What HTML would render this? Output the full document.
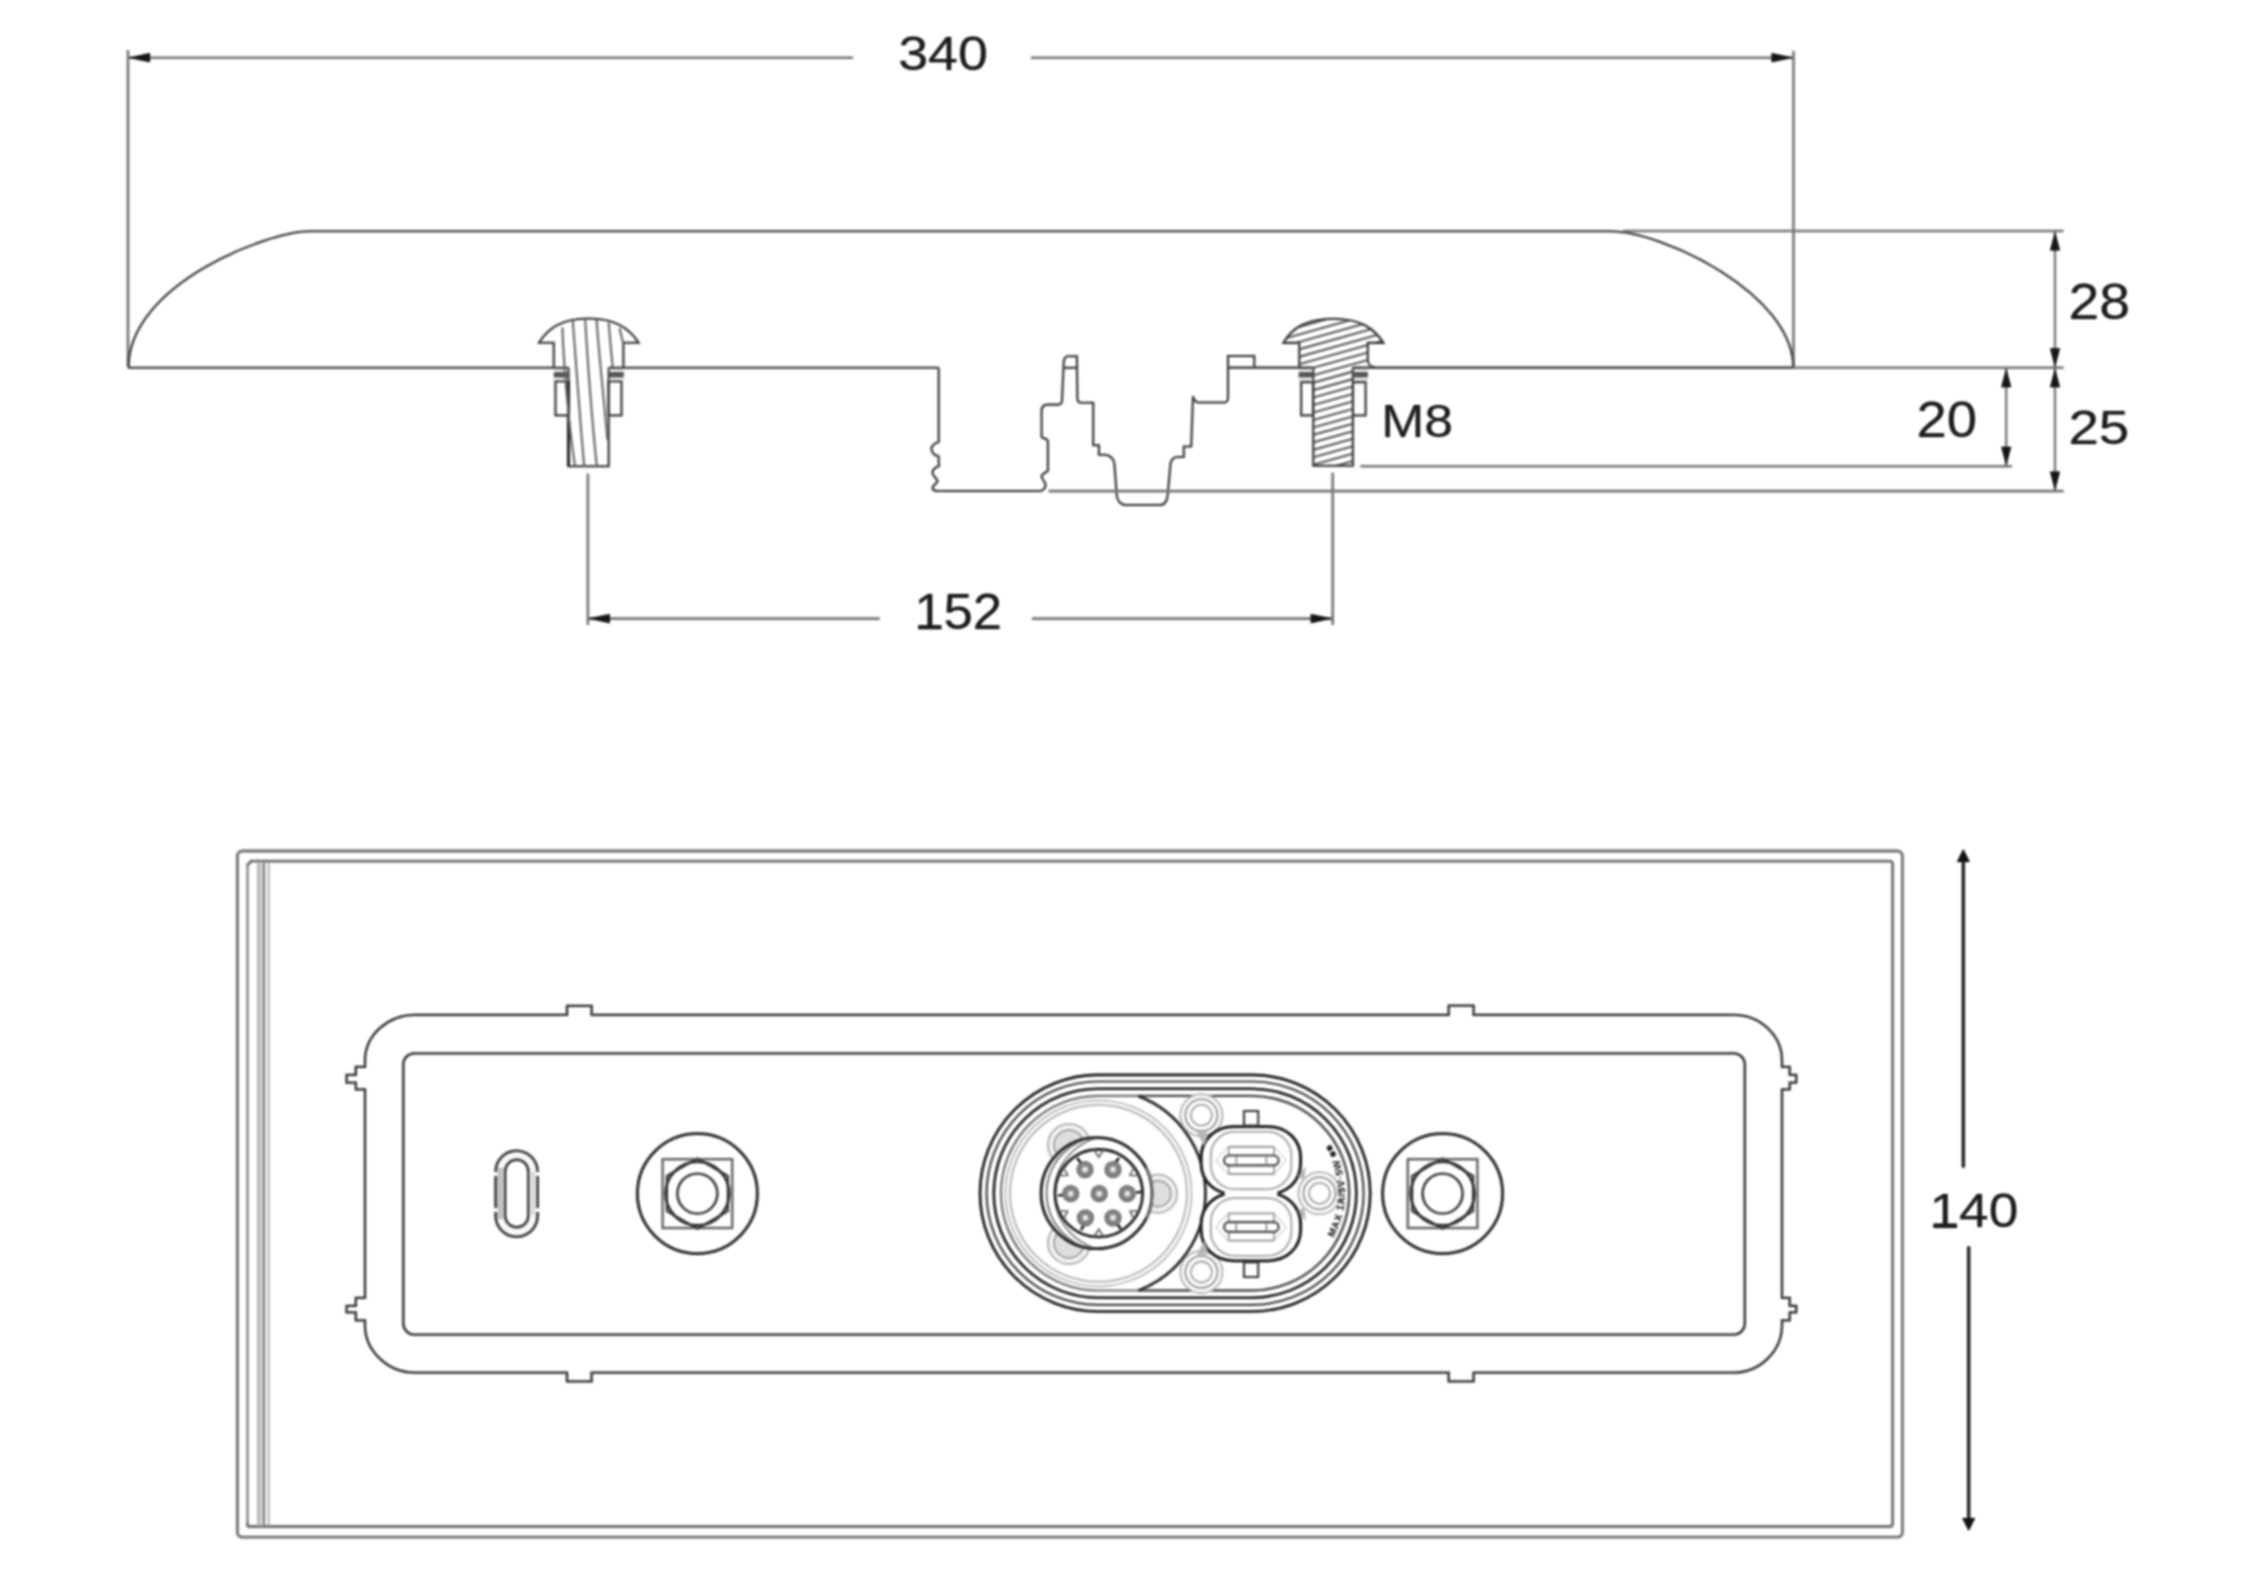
<!DOCTYPE html>
<html><head><meta charset="utf-8"><style>
html,body{margin:0;padding:0;background:#fff;}
svg{display:block;} .wrap{width:2265px;height:1569px;overflow:hidden;}
text{font-family:"Liberation Sans",sans-serif;}
</style></head><body><div class="wrap">
<svg width="2265" height="1569" viewBox="0 0 2265 1569">
<defs><filter id="soft" x="0" y="0" width="2265" height="1569" filterUnits="userSpaceOnUse" color-interpolation-filters="sRGB"><feGaussianBlur stdDeviation="1"/><feComponentTransfer><feFuncR type="gamma" amplitude="1" exponent="1.3" offset="0"/><feFuncG type="gamma" amplitude="1" exponent="1.3" offset="0"/><feFuncB type="gamma" amplitude="1" exponent="1.3" offset="0"/></feComponentTransfer></filter></defs>
<g filter="url(#soft)">
<rect width="2265" height="1569" fill="#fff"/>
<path d="M128,50 V367 M1793.5,51 V367" stroke="#8f8f8f" stroke-width="2.6" fill="none"/>
<path d="M128,57.7 H853 M1031,57.7 H1793.5" stroke="#8f8f8f" stroke-width="2.6" fill="none"/>
<path d="M128.0,57.7 L150.0,53.1 L150.0,62.3 Z" fill="#262626"/>
<path d="M1793.5,57.7 L1771.5,62.3 L1771.5,53.1 Z" fill="#262626"/>
<text transform="translate(898.15,69.51) scale(1.1075,1)" x="0" y="0" font-size="48.59" fill="#2e2e2e" >340</text>
<path d="M128.5,367.5 C128.5,285 267,231.3 310,231.3 H1610 C1663,231.3 1793.3,294 1793.3,367.5" stroke="#555" stroke-width="2.1" fill="none"/>
<path d="M1623,231 H2063.6" stroke="#8f8f8f" stroke-width="2.6" fill="none"/>
<path d="M128,367.8 H568.5 M608.7,367.8 H938.7" stroke="#555" stroke-width="2.1" fill="none"/>
<path d="M1228,367.6 H1313.3 M1352.9,367.6 H1793.5" stroke="#555" stroke-width="2.1" fill="none"/>
<path d="M1793.5,367.8 H2063.6" stroke="#8f8f8f" stroke-width="2.6" fill="none"/>
<path d="M938.7,367.8 V441.9 C934,443 930,447 932,451 C933,455 937,456 938.5,456 L939,465.9 C936,467 933,469 932.5,472 C932,476 937,478 937.5,481 C937,484 932.5,485 932.5,488 C933,490.5 935,491 937,491 H1040.3 C1044,490 1046,487 1045.4,484.5 C1045,481 1041.6,479 1041.6,476.5 C1042,473 1047.9,472 1047.9,470.7 V441.4 C1047.9,438.5 1042.2,438.5 1041.6,437 V410.8 C1041.6,406 1045,404.6 1048,404.6 H1059 C1061,404.6 1062.1,402 1062.1,398.6 L1063.7,362.9 C1063.9,358 1065,356.3 1068,356.3 H1076.9 L1077.4,398.6 C1077.6,401 1079,402.7 1081,402.7 H1093.2 V445.3 H1098.9 V454.8 H1104.7 C1110,455 1114,459 1114.4,464 L1116.7,494.8 C1117,501 1121,505 1126,505 H1160.3 C1165,505 1167.5,500 1167.7,494.8 L1170.6,462.7 C1172,459 1175,457 1177.5,457 H1183.8 V446.5 H1191.2 L1193,396.2 C1194,400 1196,402.5 1199,402.5 H1224.5 C1227,402.5 1228,400 1228,398 V356 H1254.3 V367.6" stroke="#555" stroke-width="2.1" fill="none"/>
<path d="M1064,367.8 H1077" stroke="#555" stroke-width="2.1" fill="none"/>
<path d="M1360.5,466.3 H2012 M1048.6,491.1 H2063.6" stroke="#8f8f8f" stroke-width="2.6" fill="none"/>
<path d="M2055,231 V367.8 V491.1 M2006.2,367.8 V466.3" stroke="#8a8a8a" stroke-width="2.2" fill="none"/>
<path d="M2055.0,231.5 L2060.0,250.5 L2050.0,250.5 Z" fill="#262626"/>
<path d="M2055.0,367.3 L2050.0,348.3 L2060.0,348.3 Z" fill="#262626"/>
<path d="M2055.0,368.3 L2060.0,387.3 L2050.0,387.3 Z" fill="#262626"/>
<path d="M2055.0,490.6 L2050.0,471.6 L2060.0,471.6 Z" fill="#262626"/>
<path d="M2006.2,368.3 L2011.2,387.3 L2001.2,387.3 Z" fill="#262626"/>
<path d="M2006.2,465.8 L2001.2,446.8 L2011.2,446.8 Z" fill="#262626"/>
<text transform="translate(2068.43,318.50) scale(1.1110,1)" x="0" y="0" font-size="49.86" fill="#2e2e2e" >28</text>
<text transform="translate(2068.46,443.81) scale(1.1258,1)" x="0" y="0" font-size="48.59" fill="#2e2e2e" >25</text>
<text transform="translate(1916.48,437.10) scale(1.0913,1)" x="0" y="0" font-size="49.86" fill="#2e2e2e" >20</text>
<text transform="translate(1381.27,437.23) scale(1.1046,1)" x="0" y="0" font-size="46.76" fill="#2e2e2e" >M8</text>
<path d="M587.9,473.8 V625 M1332.7,472.7 V625" stroke="#8f8f8f" stroke-width="2.6" fill="none"/>
<path d="M587.9,618.6 H879.7 M1032,618.6 H1332.7" stroke="#8f8f8f" stroke-width="2.6" fill="none"/>
<path d="M587.9,618.6 L609.9,614.0 L609.9,623.2 Z" fill="#262626"/>
<path d="M1332.7,618.6 L1310.7,623.2 L1310.7,614.0 Z" fill="#262626"/>
<text transform="translate(914.14,628.70) scale(1.0588,1)" x="0" y="0" font-size="49.86" fill="#2e2e2e" >152</text>
<path d="M553.8,367.8 V342.8 H539 C548,328 562,318.5 588.5,318.5 C615,318.5 629,328 638.7,342.8 H623.4 V367.8" stroke="#555" stroke-width="2.1" fill="none"/>
<path d="M568.5,367.8 V466.3 H608.7 V367.8" stroke="#555" stroke-width="2.1" fill="none"/>
<rect x="555.5" y="381.4" width="12.8" height="34" stroke="#555" stroke-width="2.1" fill="none"/>
<rect x="608.5" y="381.4" width="13" height="34" stroke="#555" stroke-width="2.1" fill="none"/>
<rect x="553.8" y="372" width="14.7" height="5.5" fill="#6e6e6e"/><rect x="608.7" y="372" width="15" height="5.5" fill="#6e6e6e"/>
<path d="M554,369.8 H568 M609,369.8 H623.5 M554,379.8 H568 M609,379.8 H623.5" stroke="#d0d0d0" stroke-width="1.2"/>
<path d="M568.5,381 V466.3" stroke="#444" stroke-width="3"/>
<path d="M562.4,327.5 C563.5,360 568,420 575,466.3" stroke="#7c7c7c" stroke-width="2" fill="none"/>
<path d="M572.8,321 C575,350 580,420 584.2,466.3" stroke="#7c7c7c" stroke-width="2" fill="none"/>
<path d="M585.2,319.5 C587,350 592,420 596.8,466.3" stroke="#7c7c7c" stroke-width="2" fill="none"/>
<path d="M596.6,319.5 C598.5,350 604,400 607.5,440" stroke="#7c7c7c" stroke-width="2" fill="none"/>
<path d="M608.7,322.5 C610,340 611.5,355 612.7,367" stroke="#7c7c7c" stroke-width="2" fill="none"/>
<path d="M619.6,328.2 C621,334 622,339 623.4,344" stroke="#7c7c7c" stroke-width="2" fill="none"/>
<clipPath id="rbclip"><path d="M1299.3,367.6 V342.9 H1283.4 C1292,328 1306,318.8 1333.4,318.8 C1360,318.8 1374,328 1383.4,342.9 H1367.8 V367.6 H1353 V466 H1313.3 V367.6 Z"/></clipPath>
<g clip-path="url(#rbclip)"><path d="M1270,312.8 L1400,276.4 M1270,320.2 L1400,283.8 M1270,327.7 L1400,291.3 M1270,335.1 L1400,298.7 M1270,342.6 L1400,306.2 M1270,350.1 L1400,313.7 M1270,357.5 L1400,321.1 M1270,365.0 L1400,328.6 M1270,372.4 L1400,336.0 M1270,379.9 L1400,343.5 M1270,387.4 L1400,351.0 M1270,394.8 L1400,358.4 M1270,402.3 L1400,365.9 M1270,409.7 L1400,373.3 M1270,417.2 L1400,380.8 M1270,424.7 L1400,388.3 M1270,432.1 L1400,395.7 M1270,439.6 L1400,403.2 M1270,447.0 L1400,410.6 M1270,454.5 L1400,418.1 M1270,462.0 L1400,425.6 M1270,469.4 L1400,433.0 M1270,476.9 L1400,440.5 M1270,484.3 L1400,447.9 M1270,491.8 L1400,455.4 M1270,499.3 L1400,462.9 M1270,506.7 L1400,470.3 M1270,514.2 L1400,477.8 M1270,521.6 L1400,485.2 M1270,529.1 L1400,492.7 M1270,536.6 L1400,500.2 M1270,544.0 L1400,507.6 M1270,551.5 L1400,515.1 M1270,558.9 L1400,522.5 M1270,566.4 L1400,530.0" stroke="#727272" stroke-width="2"/></g>
<path d="M1299.3,367.6 V342.9 H1283.4 C1292,328 1306,318.8 1333.4,318.8 C1360,318.8 1374,328 1383.4,342.9 H1367.8 V360 C1367.8,364 1371,367 1375,367.6" stroke="#555" stroke-width="2.1" fill="none"/>
<path d="M1313.3,367.6 V465.8 H1352.9 V367.6" stroke="#555" stroke-width="2.1" fill="none"/>
<rect x="1301.2" y="382.2" width="11.8" height="33.2" stroke="#555" stroke-width="2.1" fill="none"/>
<rect x="1353" y="382.2" width="12.6" height="33.2" stroke="#555" stroke-width="2.1" fill="none"/>
<rect x="1298.7" y="372" width="14.6" height="5.5" fill="#6e6e6e"/><rect x="1353" y="372" width="14.8" height="5.5" fill="#6e6e6e"/>
<path d="M1299,369.8 H1313 M1353.5,369.8 H1367.5 M1299,379.8 H1313 M1353.5,379.8 H1367.5" stroke="#d0d0d0" stroke-width="1.2"/>
<rect x="237.4" y="851" width="1665" height="686.2" rx="5" stroke="#8a8a8a" stroke-width="2.8" fill="none"/>
<path d="M247.5,1526.5 V865 L251,861.2 H1889.5 Q1892.6,861.2 1892.6,864.3 V1523.4 Q1892.6,1526.5 1889.5,1526.5 H247.5" stroke="#8a8a8a" stroke-width="2.8" fill="none"/>
<path d="M247.4,866 V1522" stroke="#b2b2b2" stroke-width="2.8"/>
<rect x="257" y="862.5" width="7.6" height="663" fill="#d8d8d8"/>
<path d="M258.2,862.5 V1525.5" stroke="#bdbdbd" stroke-width="1.6"/>
<path d="M264.1,862.5 V1525.5" stroke="#999" stroke-width="2.2"/>
<path d="M268.7,862.5 V1525.5" stroke="#bdbdbd" stroke-width="1.8"/>
<path d="M1963.3,858 V1166.3 M1968.7,1247.5 V1521" stroke="#383838" stroke-width="3.2" fill="none" stroke-linecap="round"/>
<path d="M1963.3,849.0 L1969.8,862.0 L1956.8,862.0 Z" fill="#222"/>
<path d="M1968.7,1531.0 L1962.2,1518.0 L1975.2,1518.0 Z" fill="#222"/>
<text transform="translate(1929.51,1227.41) scale(1.0859,1)" x="0" y="0" font-size="49.01" fill="#2e2e2e" >140</text>
<path d="M414.8,1014.8 H567 V1005.9 H591.6 V1014.8 H1448.7 V1005.7 H1473.6 V1014.8 H1733.5 C1760,1014.8 1782,1035 1782,1060.5 V1066.8 H1789.7 V1074.8 H1796.2 V1082.7 H1789.7 V1089.3 H1782 V1297.8 H1789.7 V1305.8 H1796.2 V1312.4 H1789.7 V1320.3 H1782 V1325.6 C1782,1351 1760,1372.7 1733.5,1372.7 H1473.6 V1381.3 H1448.7 V1372.7 H591.6 V1381.3 H567 V1372.7 H414.8 C388,1372.7 365,1351 365,1325.6 V1320.3 H355.8 V1312.4 H346.6 V1305.8 H355.8 V1297.8 H365 V1089.3 H355.8 V1082.7 H346.6 V1074.8 H355.8 V1066.8 H365 V1060.5 C365,1035 388,1014.8 414.8,1014.8 Z" stroke="#4e4e4e" stroke-width="2.3" fill="none"/>
<rect x="403.3" y="1053.4" width="1341.5" height="281.2" rx="11" stroke="#4e4e4e" stroke-width="2.3" fill="none"/>
<rect x="495.6" y="1150.7" width="42" height="86" rx="21" stroke="#555" stroke-width="2.6" fill="#fafafa"/>
<path d="M500.3,1168 V1219" stroke="#cdcdcd" stroke-width="6"/>
<path d="M533,1172 V1215" stroke="#e2e2e2" stroke-width="4"/>
<path d="M495.6,1172 V1176 M495.6,1208 V1212 M537.6,1172 V1176 M537.6,1208 V1212" stroke="#fff" stroke-width="4"/>
<rect x="505.2" y="1159.7" width="23.1" height="67.6" rx="11.5" stroke="#555" stroke-width="2.4" fill="#fff"/>
<circle cx="697.4" cy="1193.6" r="60" stroke="#444" stroke-width="2.8" fill="none"/>
<rect x="662.6" y="1159.1999999999998" width="69.6" height="68.8" stroke="#7a7a7a" stroke-width="2.3" fill="none"/>
<polygon points="697.4,1158.4 727.9,1176.0 727.9,1211.2 697.4,1228.8 666.9,1211.2 666.9,1176.0" stroke="#5a5a5a" stroke-width="2.2" fill="none"/>
<circle cx="697.4" cy="1193.6" r="31.8" stroke="#484848" stroke-width="2.6" fill="none"/>
<circle cx="697.4" cy="1193.6" r="20" stroke="#555" stroke-width="2.4" fill="none"/>
<circle cx="1442.6" cy="1193.6" r="60" stroke="#444" stroke-width="2.8" fill="none"/>
<rect x="1407.8" y="1159.1999999999998" width="69.6" height="68.8" stroke="#7a7a7a" stroke-width="2.3" fill="none"/>
<polygon points="1442.6,1158.4 1473.1,1176.0 1473.1,1211.2 1442.6,1228.8 1412.1,1211.2 1412.1,1176.0" stroke="#5a5a5a" stroke-width="2.2" fill="none"/>
<circle cx="1442.6" cy="1193.6" r="31.8" stroke="#484848" stroke-width="2.6" fill="none"/>
<circle cx="1442.6" cy="1193.6" r="20" stroke="#555" stroke-width="2.4" fill="none"/>
<rect x="980.0" y="1074.9" width="390.20000000000005" height="236.5999999999999" rx="118.29999999999995" stroke="#3a3a3a" stroke-width="2.6" fill="none"/>
<rect x="986.5999999999999" y="1081.5" width="377.0000000000002" height="223.4000000000001" rx="111.70000000000005" stroke="#666" stroke-width="2.2" fill="none"/>
<rect x="993.8" y="1088.7" width="362.60000000000014" height="209.0" rx="104.5" stroke="#3e3e3e" stroke-width="2.6" fill="none"/>
<path d="M1138.2,1095.9 H1251.9 A97.3,97.3 0 0 1 1251.9,1290.5 H1138.2" stroke="#6a6a6a" stroke-width="2.4" fill="none"/>
<path d="M1138.2,1095.9 H1098.3 A97.3,97.3 0 0 0 1098.3,1290.5 H1138.2" stroke="#8c8c8c" stroke-width="2.2" fill="none"/>
<path d="M1138.2,1096 A104,104 0 0 1 1138.2,1290.6" stroke="#3e3e3e" stroke-width="2.6" fill="none"/>
<circle cx="1098.5" cy="1193.3" r="93" stroke="#c8c8c8" stroke-width="1.8" fill="none"/>
<circle cx="1098.5" cy="1193.3" r="88.5" stroke="#c4c4c4" stroke-width="2" fill="none"/>
<circle cx="1069" cy="1145" r="21" stroke="#c2c2c2" stroke-width="2" fill="#f7f7f7"/>
<circle cx="1069" cy="1145" r="15" stroke="#b8b8b8" stroke-width="2" fill="#e6e6e6"/>
<circle cx="1158" cy="1193.7" r="19" stroke="#c2c2c2" stroke-width="2" fill="#f7f7f7"/>
<circle cx="1158" cy="1193.7" r="13" stroke="#b8b8b8" stroke-width="2" fill="#e6e6e6"/>
<circle cx="1069" cy="1243" r="21" stroke="#c2c2c2" stroke-width="2" fill="#f7f7f7"/>
<circle cx="1069" cy="1243" r="15" stroke="#b8b8b8" stroke-width="2" fill="#e6e6e6"/>
<circle cx="1096.6" cy="1193.2" r="55.5" stroke="#3e3e3e" stroke-width="2.8" fill="#fff"/>
<clipPath id="connclip"><circle cx="1096.6" cy="1193.2" r="54.5"/></clipPath>
<g clip-path="url(#connclip)"><circle cx="1103.5" cy="1193.3" r="56.9" stroke="#8a8a8a" stroke-width="1.8" fill="none"/><circle cx="1112" cy="1193.3" r="57.4" stroke="#9a9a9a" stroke-width="1.8" fill="none"/></g>
<path d="M1146,1168 A50,50 0 0 1 1146,1218" stroke="#9a9a9a" stroke-width="1.6" fill="none"/>
<circle cx="1098.8" cy="1193.2" r="43.8" stroke="#3e3e3e" stroke-width="2.6" fill="none"/>
<path d="M1093.8,1149.4 L1098.8,1157.2 L1103.8,1149.4" stroke="#7a7a7a" stroke-width="1.6" fill="none"/>
<path d="M1058.4,1175.6 L1067.6,1175.2 L1063.4,1167.0" stroke="#7a7a7a" stroke-width="1.6" fill="none"/>
<path d="M1134.2,1167.0 L1130.0,1175.2 L1139.2,1175.6" stroke="#7a7a7a" stroke-width="1.6" fill="none"/>
<path d="M1063.4,1219.4 L1067.6,1211.2 L1058.4,1210.8" stroke="#7a7a7a" stroke-width="1.6" fill="none"/>
<path d="M1139.2,1210.8 L1130.0,1211.2 L1134.2,1219.4" stroke="#7a7a7a" stroke-width="1.6" fill="none"/>
<path d="M1103.8,1237.0 L1098.8,1229.2 L1093.8,1237.0" stroke="#7a7a7a" stroke-width="1.6" fill="none"/>
<path d="M1077,1158 L1081,1163 M1119,1158 L1115,1163 M1058,1195.5 L1063,1195 M1142,1192 L1136,1192.5 M1081,1230 L1084,1225 M1121,1229 L1117,1224" stroke="#222" stroke-width="2.2"/>
<circle cx="1099.2" cy="1193.7" r="7.6" stroke="#8a8a8a" stroke-width="2" fill="#a8a8a8"/>
<circle cx="1099.2" cy="1193.7" r="4.6" stroke="#777" stroke-width="1.2" fill="#c8c8c8"/>
<circle cx="1099.2" cy="1193.7" r="1.8" fill="#fff"/>
<circle cx="1070.7" cy="1193.7" r="7.6" stroke="#8a8a8a" stroke-width="2" fill="#a8a8a8"/>
<circle cx="1070.7" cy="1193.7" r="4.6" stroke="#777" stroke-width="1.2" fill="#c8c8c8"/>
<circle cx="1070.7" cy="1193.7" r="1.8" fill="#fff"/>
<circle cx="1127.3" cy="1193.7" r="7.6" stroke="#8a8a8a" stroke-width="2" fill="#a8a8a8"/>
<circle cx="1127.3" cy="1193.7" r="4.6" stroke="#777" stroke-width="1.2" fill="#c8c8c8"/>
<circle cx="1127.3" cy="1193.7" r="1.8" fill="#fff"/>
<circle cx="1085" cy="1169.6" r="7.6" stroke="#8a8a8a" stroke-width="2" fill="#a8a8a8"/>
<circle cx="1085" cy="1169.6" r="4.6" stroke="#777" stroke-width="1.2" fill="#c8c8c8"/>
<circle cx="1085" cy="1169.6" r="1.8" fill="#fff"/>
<circle cx="1113" cy="1169.6" r="7.6" stroke="#8a8a8a" stroke-width="2" fill="#a8a8a8"/>
<circle cx="1113" cy="1169.6" r="4.6" stroke="#777" stroke-width="1.2" fill="#c8c8c8"/>
<circle cx="1113" cy="1169.6" r="1.8" fill="#fff"/>
<circle cx="1085.4" cy="1217.8" r="7.6" stroke="#8a8a8a" stroke-width="2" fill="#a8a8a8"/>
<circle cx="1085.4" cy="1217.8" r="4.6" stroke="#777" stroke-width="1.2" fill="#c8c8c8"/>
<circle cx="1085.4" cy="1217.8" r="1.8" fill="#fff"/>
<circle cx="1113" cy="1217.8" r="7.6" stroke="#8a8a8a" stroke-width="2" fill="#a8a8a8"/>
<circle cx="1113" cy="1217.8" r="4.6" stroke="#777" stroke-width="1.2" fill="#c8c8c8"/>
<circle cx="1113" cy="1217.8" r="1.8" fill="#fff"/>
<circle cx="1201.4" cy="1115.2" r="21" stroke="#c6c6c6" stroke-width="2" fill="#fff"/>
<circle cx="1201.4" cy="1115.2" r="16" stroke="#b0b0b0" stroke-width="2" fill="none"/>
<circle cx="1201.4" cy="1115.2" r="10.5" stroke="#b8b8b8" stroke-width="1.8" fill="none"/>
<circle cx="1201.4" cy="1272" r="21" stroke="#c6c6c6" stroke-width="2" fill="#fff"/>
<circle cx="1201.4" cy="1272" r="16" stroke="#b0b0b0" stroke-width="2" fill="none"/>
<circle cx="1201.4" cy="1272" r="10.5" stroke="#b8b8b8" stroke-width="1.8" fill="none"/>
<circle cx="1319.5" cy="1193.3" r="21" stroke="#c6c6c6" stroke-width="2" fill="#fff"/>
<circle cx="1319.5" cy="1193.3" r="16" stroke="#b0b0b0" stroke-width="2" fill="none"/>
<circle cx="1319.5" cy="1193.3" r="10.5" stroke="#b8b8b8" stroke-width="1.8" fill="none"/>
<path d="M1234.1,1126.6 H1267.6 C1286.74,1126.6 1300.6,1139.62 1300.6,1157.6 V1163.2 C1300.6,1181.18 1286.74,1194.2 1267.6,1194.2 H1234.1 C1214.9599999999998,1194.2 1201.1,1181.18 1201.1,1163.2 V1157.6 C1201.1,1139.62 1214.9599999999998,1126.6 1234.1,1126.6 Z" stroke="#333" stroke-width="2.8" fill="#fff"/>
<rect x="1210.8" y="1131.6" width="80.6" height="57.600000000000136" rx="24" stroke="#b4b4b4" stroke-width="1.8" fill="none"/>
<path d="M1216,1160.4 L1228,1146.4 H1274 L1286,1160.4 L1274,1174.4 H1228 Z" stroke="#e0e0e0" stroke-width="1.4" fill="none"/>
<path d="M1228.7,1146.9 H1274 M1228.7,1173.9 H1274 M1228.7,1146.9 V1173.9 M1274,1146.9 V1173.9" stroke="#a8a8a8" stroke-width="1.6" fill="none"/>
<rect x="1224.1" y="1155.5" width="54.5" height="9.8" rx="4.9" stroke="#6a6a6a" stroke-width="2.2" fill="#fff"/>
<path d="M1236.3,1156.4 V1164.4 M1266.4,1156.4 V1164.4" stroke="#999" stroke-width="1.4"/>
<path d="M1234.1,1193.2 H1267.6 C1286.74,1193.2 1300.6,1206.22 1300.6,1224.2 V1229.8 C1300.6,1247.78 1286.74,1260.8 1267.6,1260.8 H1234.1 C1214.9599999999998,1260.8 1201.1,1247.78 1201.1,1229.8 V1224.2 C1201.1,1206.22 1214.9599999999998,1193.2 1234.1,1193.2 Z" stroke="#333" stroke-width="2.8" fill="#fff"/>
<rect x="1210.8" y="1198.2" width="80.6" height="57.59999999999991" rx="24" stroke="#b4b4b4" stroke-width="1.8" fill="none"/>
<path d="M1216,1227.0 L1228,1213.0 H1274 L1286,1227.0 L1274,1241.0 H1228 Z" stroke="#e0e0e0" stroke-width="1.4" fill="none"/>
<path d="M1228.7,1213.5 H1274 M1228.7,1240.5 H1274 M1228.7,1213.5 V1240.5 M1274,1213.5 V1240.5" stroke="#a8a8a8" stroke-width="1.6" fill="none"/>
<rect x="1224.1" y="1222.1" width="54.5" height="9.8" rx="4.9" stroke="#6a6a6a" stroke-width="2.2" fill="#fff"/>
<path d="M1236.3,1223.0 V1231.0 M1266.4,1223.0 V1231.0" stroke="#999" stroke-width="1.4"/>
<rect x="1224.5" y="1191.2" width="53" height="4.6" fill="#fff"/>
<path d="M1197,1132 L1209,1133 L1204,1146 Z M1197,1255 L1209,1254 L1204,1241 Z M1306,1166 L1298,1176 L1304,1180 Z M1306,1221 L1298,1211 L1304,1207 Z" fill="#c4c4c4"/>
<rect x="1244" y="1111" width="14.2" height="14.6" stroke="#555" stroke-width="2" fill="none"/>
<rect x="1244" y="1262.4" width="14.2" height="14.6" stroke="#555" stroke-width="2" fill="none"/>
<path id="arcT" d="M1321.0,1255.4 A93,93 0 0 0 1321.0,1131.0" fill="none" stroke="none"/>
<text font-size="10" font-weight="bold" fill="#333" text-anchor="middle"><textPath href="#arcT" startOffset="52%" textLength="98" lengthAdjust="spacing">MAX 1A/5V·5W ■■</textPath></text>
<rect x="918.6" y="625.6" width="22.9" height="3.6" fill="#2e2e2e"/>
<rect x="1933.5" y="1224.3" width="23.5" height="3.6" fill="#2e2e2e"/>
</g>
</svg></div></body></html>
